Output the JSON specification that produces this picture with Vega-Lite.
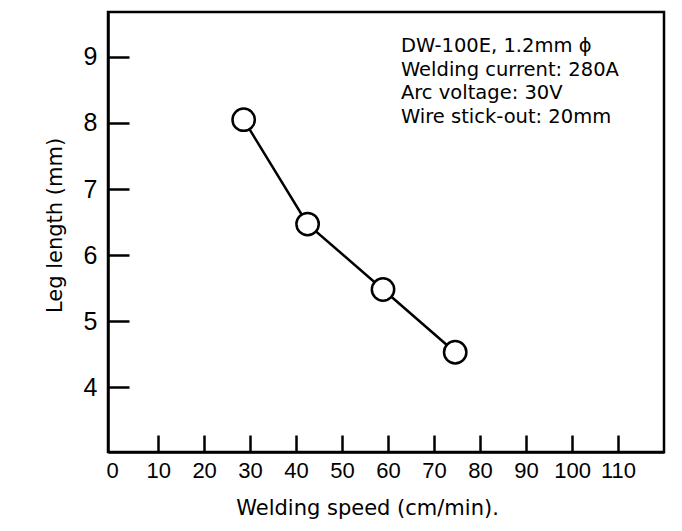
{
  "$schema": "https://vega.github.io/schema/vega-lite/v6.json",
  "autosize": {"type": "none"},
  "width": 556,
  "height": 440,
  "padding": {"left": 108, "top": 12, "right": 18, "bottom": 79},
  "background": "white",
  "config": {
    "view": {"stroke": "black", "strokeWidth": 2.5},
    "font": "DejaVu Sans",
    "axisX": {"labelFontSize": 22, "labelFont": "Liberation Sans"}
  },
  "datasets": {
    "pts": [
      {"speed": 28.6, "leg": 8.05},
      {"speed": 42.5, "leg": 6.47},
      {"speed": 58.9, "leg": 5.48},
      {"speed": 74.6, "leg": 4.53}
    ],
    "note": [
      {"speed": 62.8, "leg": 9.30, "label": "DW-100E, 1.2mm ϕ\nWelding current: 280A\nArc voltage: 30V\nWire stick-out: 20mm"}
    ]
  },
  "layer": [
    {
      "data": {"name": "pts"},
      "mark": {"type": "line", "color": "black", "strokeWidth": 2.5},
      "encoding": {
        "x": {
          "field": "speed", "type": "quantitative",
          "scale": {"domain": [-0.9, 120], "nice": false, "zero": false},
          "axis": {
            "values": [0, 10, 20, 30, 40, 50, 60, 70, 80, 90, 100, 110],
            "format": "d",
            "grid": false,
            "title": "Welding speed (cm/min).",
            "titleFont": "DejaVu Sans",
            "titleFontSize": 21,
            "titleFontWeight": "normal",
            "titleColor": "black",
            "titlePadding": 16,
            "titleX": 259,
            "labelColor": "black",
            "labelPadding": 25,
            "domainColor": "black",
            "domainWidth": 2.5,
            "tickSize": -17,
            "tickWidth": 2.5,
            "tickColor": "black",
            "tickOpacity": {"condition": {"test": "datum.value === 0", "value": 0}, "value": 1}
          }
        },
        "y": {
          "field": "leg", "type": "quantitative",
          "scale": {"domain": [3.02, 9.68], "nice": false, "zero": false},
          "axis": {
            "values": [4, 5, 6, 7, 8, 9],
            "format": "d",
            "grid": false,
            "title": "Leg length (mm)",
            "titleFont": "DejaVu Sans",
            "titleFontSize": 21,
            "titleFontWeight": "normal",
            "titleColor": "black",
            "titleX": -53,
            "titleY": 213,
            "titleBaseline": "middle",
            "labelFont": "Liberation Sans",
            "labelFontSize": 25,
            "labelColor": "black",
            "labelPadding": 32,
            "domainColor": "black",
            "domainWidth": 2.5,
            "tickSize": -21,
            "tickWidth": 2.5,
            "tickColor": "black"
          }
        }
      }
    },
    {
      "data": {"name": "pts"},
      "mark": {"type": "point", "shape": "circle", "filled": true, "fill": "white", "stroke": "black", "strokeWidth": 2.5, "size": 500, "opacity": 1},
      "encoding": {
        "x": {"field": "speed", "type": "quantitative"},
        "y": {"field": "leg", "type": "quantitative"}
      }
    },
    {
      "data": {"name": "note"},
      "mark": {"type": "text", "align": "left", "baseline": "top", "font": "DejaVu Sans", "fontSize": 19.5, "lineHeight": 23.5, "lineBreak": "\n", "color": "black"},
      "encoding": {
        "x": {"field": "speed", "type": "quantitative"},
        "y": {"field": "leg", "type": "quantitative"},
        "text": {"field": "label"}
      }
    }
  ]
}
